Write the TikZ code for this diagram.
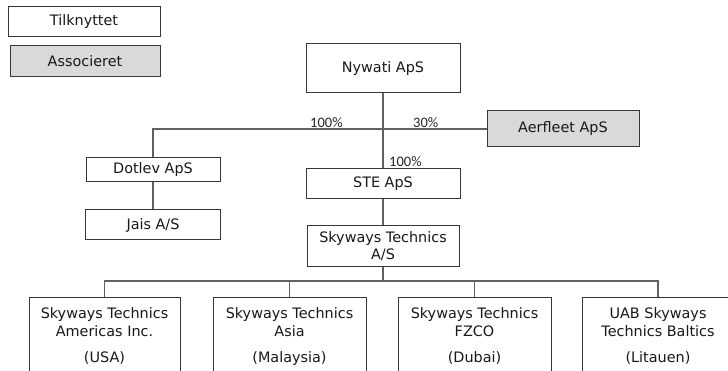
\documentclass[tikz,border=0pt]{standalone}
\usepackage{fontspec}
\setmainfont{DejaVu Sans}
\newfontfamily\pctfont{Carlito}
\begin{document}
\begin{tikzpicture}[x=1pt, y=-1pt,
  enhed/.style={draw=black!78, line width=1pt, fill=white, text=black!90, align=center, inner sep=0pt, font=\fontsize{14.4}{17}\selectfont},
  assoc/.style={enhed, fill=black!15},
  datter/.style={enhed, anchor=north, inner xsep=0pt, inner ysep=10pt, font=\fontsize{14.4}{18}\selectfont},
  forbind/.style={draw=black!62, line width=1.2pt},
  andel/.style={font=\pctfont\fontsize{14.5}{16}\selectfont, text=black!85, inner sep=0pt, anchor=base west}]
\useasboundingbox (0,0) rectangle (728,371);
\clip (0,0) rectangle (728,371);
\node[enhed, minimum width=152pt, minimum height=30pt] (tilk) at (84,22) {Tilknyttet};
\node[assoc, minimum width=150pt, minimum height=31pt] (assoc) at (85,61.5) {Associeret};
\node[enhed, minimum width=154pt, minimum height=49pt] (nywati) at (383,68.5) {Nywati ApS};
\node[assoc, minimum width=152pt, minimum height=36pt] (aerfleet) at (563,129) {Aerfleet ApS};
\node[enhed, minimum width=134pt, minimum height=24pt] (dotlev) at (153,170) {Dotlev ApS};
\node[enhed, minimum width=135pt, minimum height=30pt] (jais) at (153,225) {Jais A/S};
\node[enhed, minimum width=154pt, minimum height=30pt] (ste) at (383,184) {STE ApS};
\node[enhed, minimum width=152pt, minimum height=41pt] (skyways) at (383,246.5) {Skyways Technics\\A/S};
\node[datter, minimum width=151pt] (usa) at (104.5,297) {Skyways Technics\\Americas Inc.\\[8pt](USA)};
\node[datter, minimum width=153pt] (mal) at (289.5,297) {Skyways Technics\\Asia\\[8pt](Malaysia)};
\node[datter, minimum width=153pt] (dub) at (474.5,297) {Skyways Technics\\FZCO\\[8pt](Dubai)};
\node[datter, minimum width=152pt] (lit) at (658,297) {UAB Skyways\\Technics Baltics\\[8pt](Litauen)};
\coordinate (fordel) at (383,281);
\draw[forbind] (dotlev) |- (aerfleet);
\draw[forbind] (nywati) -- (ste);
\draw[forbind] (dotlev) -- (jais);
\draw[forbind] (ste) -- (skyways);
\draw[forbind] (skyways) -- (fordel);
\draw[forbind] (usa) |- (fordel) -| (lit);
\draw[forbind] (mal) -- (mal |- fordel);
\draw[forbind] (dub) -- (dub |- fordel);
\node[andel] (p1) at (310,128) {100\%};
\node[andel] (p2) at (413,128) {30\%};
\node[andel] (p3) at (389,166.5) {100\%};
\end{tikzpicture}
\end{document}
